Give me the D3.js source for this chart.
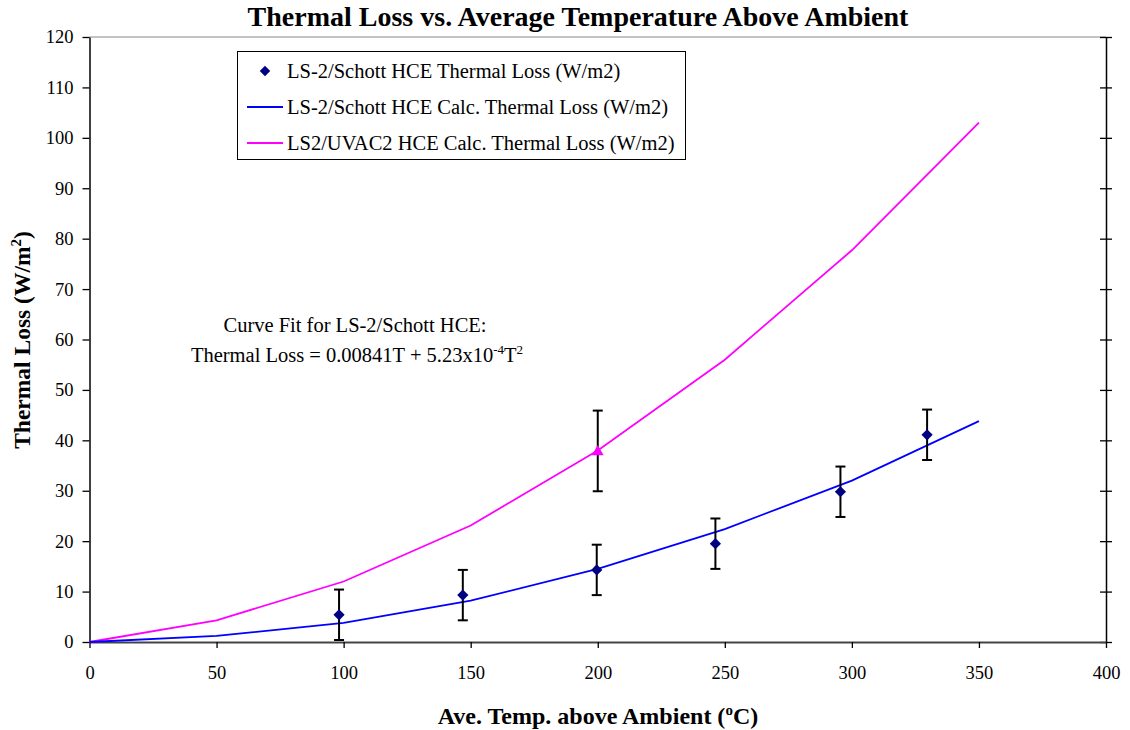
<!DOCTYPE html>
<html><head><meta charset="utf-8">
<script src="https://cdn.jsdelivr.net/npm/d3@7"></script>
<style>body{margin:0;background:#fff}</style>
</head><body><svg id="c" width="1130" height="730"></svg>
<script>
const calcT = [0, 50, 100, 150, 200, 250, 300, 350];
const schottCalc = [0, 1.2, 3.8, 8.2, 14.5, 22.4, 32.0, 43.8];
const uvacCalc = [0, 4.3, 12.0, 23.1, 38.0, 56.0, 77.7, 103.0];
const measT = [98.2, 146.9, 199.6, 246.3, 295.5, 329.6];
const measLoss = [5.4, 9.3, 14.3, 19.5, 29.8, 41.1];
const measErr = [5.0, 5.0, 5.0, 5.0, 5.0, 5.0];
const uvacMeasT = [200];
const uvacMeasLoss = [37.9];
const uvacMeasErr = [8.0];
const xTicks = [0, 50, 100, 150, 200, 250, 300, 350, 400];
const yTicks = [0, 10, 20, 30, 40, 50, 60, 70, 80, 90, 100, 110, 120];
const seriesNames = ["LS-2/Schott HCE Thermal Loss (W/m2)", "LS-2/Schott HCE Calc. Thermal Loss (W/m2)", "LS2/UVAC2 HCE Calc. Thermal Loss (W/m2)"];

const FF = "'Liberation Serif', 'Times New Roman', Times, 'DejaVu Serif', serif";
const svg = d3.select("#c").attr("font-family", FF);
const L = 89.5, R = 1106, T = 37, B = 642;
const x = d3.scaleLinear().domain([0, 400]).range([L, R]);
const y = d3.scaleLinear().domain([0, 120]).range([B, T]);

// title
svg.append("text").attr("x", 578).attr("y", 26).attr("text-anchor", "middle").attr("font-family", FF)
  .attr("font-size", 28).attr("font-weight", "bold").text("Thermal Loss vs. Average Temperature Above Ambient");

// top border
svg.append("line").attr("x1", L).attr("x2", R).attr("y1", T).attr("y2", T).attr("stroke", "#888").attr("stroke-width", 1.2);

// left axis
const yAx = svg.append("g").attr("transform", `translate(${L},0)`)
  .call(d3.axisLeft(y).tickValues(yTicks).tickSize(7).tickPadding(9).tickSizeOuter(0));
yAx.attr("font-family", FF);
yAx.select(".domain").attr("stroke", "#000").attr("stroke-width", 1.5);
yAx.selectAll(".tick line").attr("stroke", "#000").attr("stroke-width", 1.3);
yAx.selectAll("text").attr("font-size", 18.5).attr("font-family", FF).attr("fill", "#000");

// right axis (cross ticks)
const yAxR = svg.append("g").attr("transform", `translate(${R},0)`)
  .call(d3.axisRight(y).tickValues(yTicks).tickSize(6).tickFormat("").tickSizeOuter(0));
yAxR.select(".domain").attr("stroke", "#000").attr("stroke-width", 1.5);
yAxR.selectAll(".tick line").attr("x1", -6).attr("x2", 6).attr("stroke", "#000").attr("stroke-width", 1.3);

// bottom axis
const xAx = svg.append("g").attr("transform", `translate(0,${B})`)
  .call(d3.axisBottom(x).tickValues(xTicks).tickSize(6).tickPadding(18).tickSizeOuter(0));
xAx.attr("font-family", FF);
xAx.select(".domain").attr("stroke", "#444").attr("stroke-width", 2.2);
xAx.selectAll(".tick line").attr("stroke", "#000").attr("stroke-width", 1.3);
xAx.selectAll("text").attr("font-size", 18.5).attr("font-family", FF).attr("fill", "#000");

// axis titles
const xt = svg.append("text").attr("x", 598).attr("y", 724).attr("text-anchor", "middle").attr("font-family", FF)
  .attr("font-size", 24).attr("font-weight", "bold");
xt.append("tspan").text("Ave. Temp. above Ambient (");
xt.append("tspan").attr("font-size", 15).attr("dy", -9).text("o");
xt.append("tspan").attr("dy", 9).text("C)");

const yt = svg.append("text").attr("transform", "translate(30,340) rotate(-90)").attr("text-anchor", "middle").attr("font-family", FF)
  .attr("font-size", 23.5).attr("font-weight", "bold");
yt.append("tspan").text("Thermal Loss (W/m");
yt.append("tspan").attr("font-size", 15).attr("dy", -9).text("2");
yt.append("tspan").attr("dy", 9).text(")");

// lines
const line = d3.line().x(d => x(d[0])).y(d => y(d[1]));
svg.append("path").datum(calcT.map((t, i) => [t, uvacCalc[i]])).attr("d", line)
  .attr("fill", "none").attr("stroke", "#ff00ff").attr("stroke-width", 1.8);
svg.append("path").datum(calcT.map((t, i) => [t, schottCalc[i]])).attr("d", line)
  .attr("fill", "none").attr("stroke", "#0000ff").attr("stroke-width", 1.8);

// error bars
function errBars(ts, vs, es) {
  const g = svg.append("g").attr("stroke", "#000").attr("stroke-width", 2);
  ts.forEach((t, i) => {
    const cx = x(t), y1 = y(vs[i] + es[i]), y0 = y(vs[i] - es[i]);
    g.append("line").attr("x1", cx).attr("x2", cx).attr("y1", y1).attr("y2", y0);
    g.append("line").attr("x1", cx - 5).attr("x2", cx + 5).attr("y1", y1).attr("y2", y1);
    g.append("line").attr("x1", cx - 5).attr("x2", cx + 5).attr("y1", y0).attr("y2", y0);
  });
}
errBars(measT, measLoss, measErr);
errBars(uvacMeasT, uvacMeasLoss, uvacMeasErr);

// markers
const diamond = d3.symbol().type(d3.symbolDiamond2).size(80);
svg.append("g").selectAll("path").data(measT).join("path")
  .attr("transform", (t, i) => `translate(${x(t)},${y(measLoss[i])})`)
  .attr("d", diamond).attr("fill", "#000080");
svg.append("g").selectAll("path").data(uvacMeasT).join("path")
  .attr("transform", (t, i) => `translate(${x(t)},${y(uvacMeasLoss[i]) + 1})`)
  .attr("d", d3.symbol().type(d3.symbolTriangle).size(60)).attr("fill", "#ff00ff");

// legend
const lg = svg.append("g");
lg.append("rect").attr("x", 237.5).attr("y", 51.5).attr("width", 448).attr("height", 108)
  .attr("fill", "#fff").attr("stroke", "#000").attr("stroke-width", 1);
const rowsY = [71, 107, 143];
lg.append("path").attr("transform", `translate(265,${rowsY[0]})`).attr("d", d3.symbol().type(d3.symbolDiamond2).size(70)).attr("fill", "#000080");
lg.append("line").attr("x1", 247).attr("x2", 283).attr("y1", rowsY[1]).attr("y2", rowsY[1]).attr("stroke", "#0000ff").attr("stroke-width", 1.8);
lg.append("line").attr("x1", 247).attr("x2", 283).attr("y1", rowsY[2]).attr("y2", rowsY[2]).attr("stroke", "#ff00ff").attr("stroke-width", 1.8);
seriesNames.forEach((s, i) => {
  lg.append("text").attr("x", 287).attr("y", rowsY[i] + 7).attr("font-family", FF).attr("font-size", 20.5).text(s);
});

// annotation
svg.append("text").attr("x", 355).attr("y", 332).attr("text-anchor", "middle").attr("font-family", FF).attr("font-size", 20.5)
  .text("Curve Fit for LS-2/Schott HCE:");
const an = svg.append("text").attr("x", 357).attr("y", 362).attr("text-anchor", "middle").attr("font-family", FF).attr("font-size", 20.5);
an.append("tspan").text("Thermal Loss = 0.00841T + 5.23x10");
an.append("tspan").attr("font-size", 13).attr("dy", -8).text("-4");
an.append("tspan").attr("dy", 8).text("T");
an.append("tspan").attr("font-size", 13).attr("dy", -8).text("2");
</script></body></html>
